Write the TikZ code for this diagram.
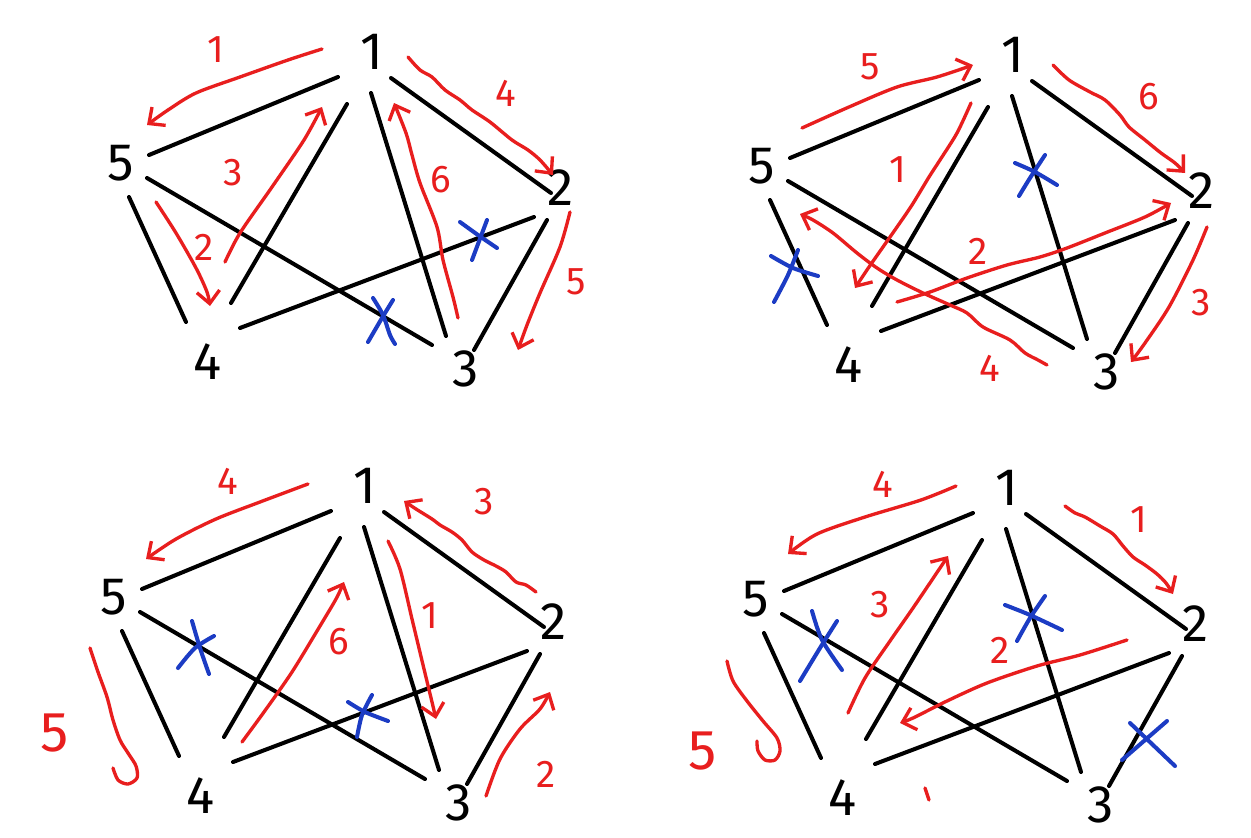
\documentclass[tikz,border=0pt]{standalone}
\usepackage{fontspec}
\setmainfont{Fira Sans}
\usetikzlibrary{arrows.meta}

\definecolor{penred}{RGB}{232,30,30}
\definecolor{penblue}{RGB}{28,60,196}

\begin{document}
\begin{tikzpicture}[
        x=0.02cm, y=-0.02cm,
        vlabel/.style={font=\fontsize{30}{32}\selectfont, inner sep=0pt},
        numlbl/.style={penred, font=\fontsize{22}{24}\selectfont, inner sep=0pt},
        bignum/.style={penred, font=\fontsize{32}{34}\selectfont, inner sep=0pt},
        gline/.style={line width=2.3pt, line cap=round},
        redarrow/.style={penred, line width=1.9pt, line cap=round, line join=round,
            -{Straight Barb[length=7pt,width=13pt]}},
        redline/.style={penred, line width=1.9pt, line cap=round, line join=round},
        bluecross/.style={penblue, line width=2.3pt, line cap=round}
    ]
    \fill[white] (0,0) rectangle (1251,838);
    \useasboundingbox (0,0) rectangle (1251,838);

    % the same graph, four times
    \foreach \p/\dx/\dy in {a/0/0, b/641/3, c/-7/434, d/635/436} {
        \begin{scope}[shift={(\dx,\dy)}]
            \node[vlabel] (v\p1) at (372,52) {1};
            \node[vlabel] (v\p2) at (561,188) {2};
            \node[vlabel] (v\p3) at (466,369) {3};
            \node[vlabel] (v\p4) at (208,362) {4};
            \node[vlabel] (v\p5) at (121,163) {5};
            \foreach \a/\sa/\b/\sb in {5/{(28,-8)}/1/{(-34,25)}, 1/{(-25,52)}/4/{(23,-59)},
                    1/{(-1,41)}/3/{(-20,-33)}, 1/{(19,26)}/2/{(-10,5)},
                    5/{(26,15)}/3/{(-34,-24)}, 5/{(8,34)}/4/{(-22,-40)},
                    4/{(32,-34)}/2/{(-27,29)}, 2/{(-14,32)}/3/{(8,-19)}}
                \draw[gline] ([shift={\sa}]v\p\a.center) -- ([shift={\sb}]v\p\b.center);
        \end{scope}
    }

    % top left
    \draw[redarrow] plot[smooth] coordinates {(322,49) (288,60) (240,77) (196,93) (168,110) (147,125)};
    \draw[redarrow] plot[smooth] coordinates {(156,202) (176,233) (196,268) (207,292) (210,306)};
    \draw[redarrow] plot[smooth] coordinates {(225,262) (240,233) (272,187) (304,140) (322,107)};
    \draw[redarrow] plot[smooth] coordinates {(408,57) (420,70) (432,77) (445,90) (460,100) (472,110)
        (490,122) (512,140) (528,150) (540,160) (553,175)};
    \draw[redarrow] plot[smooth] coordinates {(570,212) (560,247) (540,293) (527,325) (518,350)};
    \draw[redarrow] plot[smooth] coordinates {(458,318) (453,297) (443,260) (437,227) (420,183)
        (412,155) (406,133) (394,103)};
    \node[numlbl] (sa1) at (216,50) {1};
    \node[numlbl] (sa2) at (204,247) {2};
    \node[numlbl] (sa3) at (233,173) {3};
    \node[numlbl] (sa4) at (506,93) {4};
    \node[numlbl] (sa5) at (576,282) {5};
    \node[numlbl] (sa6) at (441,180) {6};
    \draw[bluecross] plot[smooth] coordinates {(460,222) (478,235) (497,248)};
    \draw[bluecross] (487,220) -- (472,260);
    \draw[bluecross] plot[smooth] coordinates {(373,298) (383,315) (390,335) (395,344)};
    \draw[bluecross] plot[smooth] coordinates {(393,300) (382,318) (368,342)};

    % top right
    \draw[redarrow] plot[smooth] coordinates {(802,128) (849,107) (897,87) (937,77) (973,65)};
    \draw[redarrow] plot[smooth] coordinates {(971,103) (957,133) (940,160) (929,177) (912,205)
        (897,227) (869,267) (855,288)};
    \draw[redarrow] plot[smooth] coordinates {(897,302) (930,292) (967,278) (1007,265) (1040,257)
        (1067,248) (1105,233) (1145,217) (1171,203)};
    \draw[redarrow] plot[smooth] coordinates {(1207,227) (1193,260) (1169,307) (1145,343) (1131,362)};
    \draw[redarrow] plot[smooth] coordinates {(1047,365) (1038,360) (1025,353) (1010,340) (983,327)
        (967,313) (950,305) (923,293) (897,280) (877,268) (857,253) (833,233) (813,220) (800,214)};
    \draw[redarrow] plot[smooth] coordinates {(1053,65) (1069,80) (1090,92) (1105,100) (1120,115)
        (1129,127) (1145,140) (1161,153) (1175,163) (1185,173)};
    \node[numlbl] (sb5) at (870,67) {5};
    \node[numlbl] (sb1) at (898,170) {1};
    \node[numlbl] (sb2) at (978,251) {2};
    \node[numlbl] (sb3) at (1201,303) {3};
    \node[numlbl] (sb4) at (990,368) {4};
    \node[numlbl] (sb6) at (1149,97) {6};
    \draw[bluecross] plot[smooth] coordinates {(1015,163) (1035,172) (1057,185)};
    \draw[bluecross] plot[smooth] coordinates {(1045,155) (1030,178) (1019,196)};
    \draw[bluecross] plot[smooth] coordinates {(771,256) (793,268) (818,276)};
    \draw[bluecross] plot[smooth] coordinates {(798,250) (788,275) (774,302)};

    % bottom left
    \draw[redarrow] plot[smooth] coordinates {(308,484) (260,502) (216,519) (176,539) (146,559)};
    \draw[redarrow] plot[smooth] coordinates {(536,592) (526,585) (516,582) (506,572) (496,566)
        (484,560) (472,552) (462,540) (452,532) (440,525) (432,519) (416,509) (404,501)};
    \draw[redarrow] plot[smooth] coordinates {(388,541) (400,569) (412,619) (424,669) (432,702) (436,719)};
    \draw[redarrow] plot[smooth] coordinates {(242,742) (264,712) (292,672) (320,626) (336,599) (344,582)};
    \draw[redarrow] plot[smooth] coordinates {(486,796) (500,759) (520,729) (540,709) (550,692)};
    \draw[redline] plot[smooth] coordinates {(90,648) (98,672) (107,697) (113,720) (120,740) (128,753)
        (136,766) (137,778) (128,784) (118,780) (113,768)};
    \node[numlbl] (sc4) at (228,481) {4};
    \node[numlbl] (sc3) at (484,502) {3};
    \node[numlbl] (sc1) at (430,616) {1};
    \node[numlbl] (sc6) at (339,642) {6};
    \node[numlbl] (sc2) at (546,774) {2};
    \node[bignum] (sc5) at (55,733) {5};
    \draw[bluecross] plot[smooth] coordinates {(192,621) (200,648) (209,674)};
    \draw[bluecross] plot[smooth] coordinates {(214,636) (195,648) (178,668)};
    \draw[bluecross] plot[smooth] coordinates {(372,695) (362,715) (357,737)};
    \draw[bluecross] plot[smooth] coordinates {(348,702) (365,712) (388,721)};

    % bottom right
    \draw[redarrow] plot[smooth] coordinates {(956,486) (921,500) (865,517) (817,534) (788,554)};
    \draw[redarrow] plot[smooth] coordinates {(1065,506) (1075,513) (1085,517) (1100,526) (1113,534)
        (1123,546) (1133,557) (1145,565) (1157,574) (1166,583) (1173,594)};
    \draw[redarrow] plot[smooth] coordinates {(848,713) (865,678) (890,641) (913,608) (940,568) (948,556)};
    \draw[redarrow] plot[smooth] coordinates {(1127,640) (1080,655) (1037,666) (987,683) (947,701)
        (913,718) (900,723)};
    \draw[redline] plot[smooth] coordinates {(727,661) (733,681) (747,701) (763,721) (777,738) (780,751)
        (775,760) (765,760) (758,751) (757,741)};
    \draw[redline] (925,788) -- (929,800);
    \node[numlbl] (sd4) at (883,484) {4};
    \node[numlbl] (sd1) at (1139,520) {1};
    \node[numlbl] (sd3) at (880,605) {3};
    \node[numlbl] (sd2) at (1000,650) {2};
    \node[bignum] (sd5) at (703,751) {5};
    \draw[bluecross] plot[smooth] coordinates {(812,611) (822,640) (842,670)};
    \draw[bluecross] plot[smooth] coordinates {(837,621) (820,648) (800,681)};
    \draw[bluecross] plot[smooth] coordinates {(1005,605) (1030,615) (1062,630)};
    \draw[bluecross] plot[smooth] coordinates {(1045,596) (1030,618) (1017,641)};
    \draw[bluecross] (1130,723) -- (1175,766);
    \draw[bluecross] (1167,721) -- (1122,760);
\end{tikzpicture}
\end{document}
